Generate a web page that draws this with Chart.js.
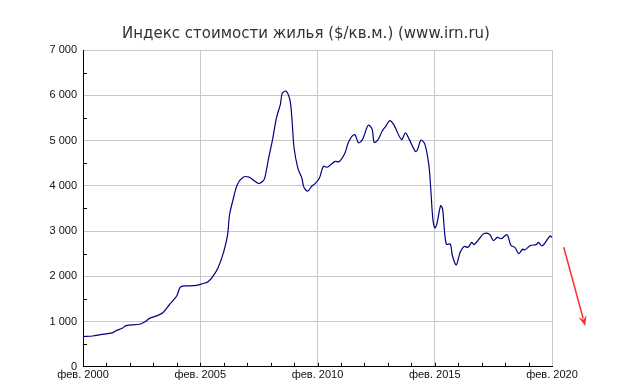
<!DOCTYPE html>
<html>
<head>
<meta charset="utf-8">
<script src="https://cdn.jsdelivr.net/npm/chart.js@4"></script>
<style>
    html, body { margin: 0; padding: 0; background: #fff; }
    #wrap { width: 634px; height: 390px; }
</style>
</head>
<body>
<div id="wrap"><canvas id="priceChart" width="634" height="390"></canvas></div>
<script>
    // Months counted from Feb 2000
    const months = [
        0, 5, 9, 15, 17, 20, 22, 29, 32, 34, 38, 41, 44, 48, 50, 55, 58, 60, 62, 64,
        66, 69, 72, 74, 75, 77, 79, 82, 85, 88, 90, 92, 93, 95, 97, 99, 101, 102, 104, 106,
        107, 108, 110, 112, 113, 115, 117, 119, 121, 123, 125, 129, 131, 134, 136, 139, 141, 143, 146, 148,
        149, 151, 153, 155, 157, 159, 163, 165, 167, 170, 171, 173, 175, 177, 178, 179, 180, 181, 183, 184,
        185, 186, 188, 189, 191, 193, 195, 197, 199, 200, 203, 205, 208, 210, 212, 214, 217, 219, 221, 223,
        225, 226, 229, 232, 233, 235, 239, 240
    ];

    // Price index, $ per sq.m.
    const prices = [
        670, 680, 710, 750, 800, 850, 910, 940, 1000, 1070, 1130, 1200, 1360, 1570, 1770, 1790, 1800, 1820, 1845, 1880,
        1970, 2180, 2540, 2920, 3360, 3730, 4030, 4190, 4190, 4100, 4050, 4100, 4170, 4610, 5020, 5500, 5800, 6050, 6090, 5870,
        5430, 4840, 4380, 4170, 3970, 3880, 3990, 4060, 4170, 4430, 4410, 4540, 4530, 4720, 4980, 5130, 4950, 5020, 5340, 5240,
        4960, 5020, 5200, 5320, 5440, 5350, 5020, 5170, 5020, 4760, 4780, 5010, 4910, 4450, 3900, 3280, 3070, 3140, 3560, 3490,
        2990, 2710, 2710, 2460, 2250, 2530, 2660, 2640, 2750, 2700, 2840, 2940, 2930, 2790, 2860, 2830, 2920, 2680, 2640, 2500,
        2600, 2580, 2680, 2700, 2750, 2670, 2890, 2860
    ];

    const yTicks = [0, 1000, 2000, 3000, 4000, 5000, 6000, 7000];

    // Red arrow to the right of the plot (month, value)
    const arrowFrom = [246, 2640];
    const arrowTo = [257, 900];

    function fmtThousands(v) {
        return String(v).replace(/\B(?=(\d{3})+(?!\d))/g, ' ');
    }

    // Minor ticks inside the plot and the red arrow
    const extrasPlugin = {
        id: 'extras',
        afterDraw(chart) {
            const ctx = chart.ctx;
            const x = chart.scales.x;
            const y = chart.scales.y;
            const area = chart.chartArea;

            ctx.save();
            ctx.strokeStyle = '#000';
            ctx.lineWidth = 1;
            ctx.beginPath();
            for (let m = 12; m < 240; m += 12) {
                const px = Math.round(x.getPixelForValue(m)) + 0.5;
                ctx.moveTo(px, area.bottom);
                ctx.lineTo(px, area.bottom - 4);
            }
            for (let v = 500; v < 7000; v += 1000) {
                const py = Math.round(y.getPixelForValue(v)) + 0.5;
                ctx.moveTo(area.left, py);
                ctx.lineTo(area.left + 4, py);
            }
            ctx.stroke();

            // arrow
            const x1 = x.getPixelForValue(arrowFrom[0]);
            const y1 = y.getPixelForValue(arrowFrom[1]);
            const x2 = x.getPixelForValue(arrowTo[0]);
            const y2 = y.getPixelForValue(arrowTo[1]);
            const ang = Math.atan2(y2 - y1, x2 - x1);
            const head = 11;
            ctx.strokeStyle = '#ff2a2a';
            ctx.fillStyle = '#ff2a2a';
            ctx.lineWidth = 1.5;
            ctx.beginPath();
            ctx.moveTo(x1, y1);
            ctx.lineTo(x2 - Math.cos(ang) * head * 0.7, y2 - Math.sin(ang) * head * 0.7);
            ctx.stroke();
            ctx.beginPath();
            ctx.moveTo(x2, y2);
            ctx.lineTo(x2 - head * Math.cos(ang - 0.38), y2 - head * Math.sin(ang - 0.38));
            ctx.lineTo(x2 - head * 0.6 * Math.cos(ang), y2 - head * 0.6 * Math.sin(ang));
            ctx.lineTo(x2 - head * Math.cos(ang + 0.38), y2 - head * Math.sin(ang + 0.38));
            ctx.closePath();
            ctx.fill();
            ctx.restore();
        }
    };

    const ctx = document.getElementById('priceChart').getContext('2d');
    new Chart(ctx, {
        type: 'line',
        data: {
            datasets: [{
                data: months.map((m, i) => ({ x: m, y: prices[i] })),
                borderColor: '#000080',
                borderWidth: 1.2,
                pointRadius: 0,
                tension: 0.3,
                fill: false
            }]
        },
        options: {
            responsive: false,
            animation: false,
            layout: {
                padding: { left: 0, right: 22, top: 0, bottom: 6 }
            },
            plugins: {
                legend: { display: false },
                tooltip: { enabled: false },
                title: {
                    display: true,
                    text: 'Индекс стоимости жилья ($/кв.м.) (www.irn.ru)',
                    color: '#333',
                    font: { family: 'DejaVu Sans', size: 15, weight: 'normal' },
                    padding: { top: 25, bottom: 7 }
                }
            },
            scales: {
                x: {
                    type: 'linear',
                    min: 0,
                    max: 240,
                    afterBuildTicks(scale) {
                        const t = [];
                        for (let m = 0; m <= 240; m += 60) t.push({ value: m });
                        scale.ticks = t;
                    },
                    ticks: {
                        autoSkip: false,
                        maxRotation: 0,
                        padding: 2,
                        color: '#111',
                        font: { family: 'Liberation Sans', size: 11 },
                        callback: v => 'фев. ' + (2000 + v / 12)
                    },
                    grid: { color: '#c8c8c8', drawTicks: false },
                    border: { display: true, color: '#000', width: 1 }
                },
                y: {
                    min: 0,
                    max: 7000,
                    afterBuildTicks(scale) {
                        scale.ticks = yTicks.map(v => ({ value: v }));
                    },
                    afterFit(scale) {
                        scale.width = 83;
                    },
                    ticks: {
                        padding: 6,
                        color: '#111',
                        font: { family: 'Liberation Sans', size: 11 },
                        callback: v => fmtThousands(v)
                    },
                    grid: { color: '#c8c8c8', drawTicks: false },
                    border: { display: true, color: '#000', width: 1 }
                },
                // empty spacer on the right to leave room for the arrow
                spacer: {
                    type: 'linear',
                    position: 'right',
                    display: true,
                    grid: { display: false, drawTicks: false },
                    border: { display: false },
                    ticks: { display: false },
                    afterFit(scale) {
                        scale.width = 60;
                    }
                }
            }
        },
        plugins: [extrasPlugin]
    });
</script>
</body>
</html>
